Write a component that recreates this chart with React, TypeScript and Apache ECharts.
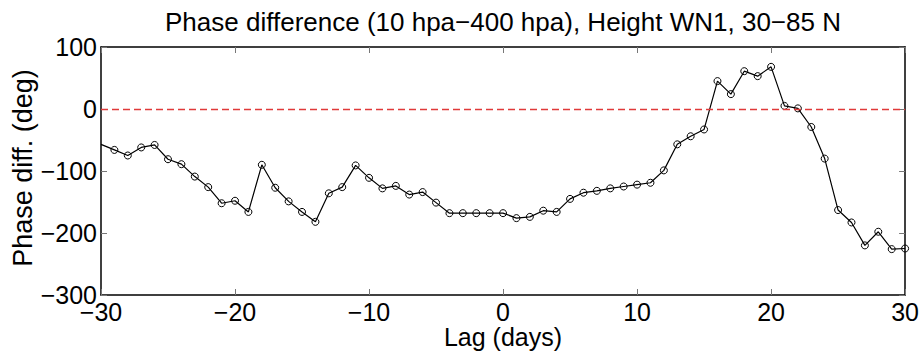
import React, { useEffect, useRef } from "react";
import * as echarts from "echarts";

const titleText = "Phase difference (10 hpa\u2212400 hpa), Height WN1, 30\u221285 N";
const xName = "Lag (days)";
const yName = "Phase diff. (deg)";

const lags = [
  -30, -29, -28, -27, -26, -25, -24, -23, -22, -21, -20, -19, -18, -17, -16, -15,
  -14, -13, -12, -11, -10, -9, -8, -7, -6, -5, -4, -3, -2, -1, 0, 1, 2, 3, 4, 5,
  6, 7, 8, 9, 10, 11, 12, 13, 14, 15, 16, 17, 18, 19, 20, 21, 22, 23, 24, 25, 26,
  27, 28, 29, 30,
];

const phaseDiff = [
  -57, -66, -75, -62, -58, -81, -89, -109, -126, -152, -148, -166, -90, -127, -149, -166,
  -182, -136, -126, -91, -111, -128, -124, -138, -134, -151, -168, -168, -168, -168, -168, -176, -174, -164, -166, -145,
  -135, -132, -128, -125, -122, -119, -99, -57, -44, -33, 45, 24, 61, 53, 68, 5, 1, -29, -80, -163, -183,
  -220, -198, -226, -225,
];

const xTicks = { min: -30, max: 30, interval: 10 };
const yTicks = { min: -300, max: 100, interval: 100 };
const refLine = 0;

const FONT = "'Liberation Sans', Arial, Helvetica, sans-serif";
const fmt = (v: number) => (v < 0 ? "\u2212" + Math.abs(v) : String(v));
const RED = "#e03a3a";

export default function App() {
  const ref = useRef<HTMLDivElement>(null);
  useEffect(() => {
    if (!ref.current) return;
    const chart = echarts.init(ref.current, undefined, { renderer: "svg" });
    const axisLine = { show: true, onZero: false, lineStyle: { color: "#000", width: 1.5 } };
    const axisTick = { show: true, inside: true, length: 6, lineStyle: { color: "#777", width: 1 } };
    const data = lags.map((d, i) =>
      i === 0 ? { value: [d, phaseDiff[i]], symbol: "none" } : { value: [d, phaseDiff[i]] }
    );
    chart.setOption({
      animation: false,
      backgroundColor: "#fff",
      grid: { left: 101, right: 16, top: 47, bottom: 56, containLabel: false },
      xAxis: [
        {
          type: "value", position: "bottom", ...xTicks,
          axisLine, axisTick,
          axisLabel: { fontSize: 25, color: "#000", fontFamily: FONT, margin: 4, formatter: fmt },
          splitLine: { show: false },
        },
        {
          type: "value", position: "top", ...xTicks,
          axisLine, axisTick, axisLabel: { show: false }, splitLine: { show: false },
        },
      ],
      yAxis: [
        {
          type: "value", position: "left", ...yTicks,
          axisLine, axisTick,
          axisLabel: { fontSize: 25, color: "#000", fontFamily: FONT, margin: 4, formatter: fmt },
          splitLine: { show: false },
        },
        {
          type: "value", position: "right", ...yTicks,
          axisLine, axisTick, axisLabel: { show: false }, splitLine: { show: false },
        },
      ],
      graphic: [
        {
          type: "text", x: 503, y: 22,
          style: { text: titleText, font: `26px ${FONT}`, fill: "#000", textAlign: "center", textVerticalAlign: "middle" },
        },
        {
          type: "text", x: 503, y: 337,
          style: { text: xName, font: `25px ${FONT}`, fill: "#000", textAlign: "center", textVerticalAlign: "middle" },
        },
        {
          type: "text", x: 23, y: 168, rotation: Math.PI / 2,
          style: { text: yName, font: `27px ${FONT}`, fill: "#000", textAlign: "center", textVerticalAlign: "middle" },
        },
      ],
      series: [
        {
          type: "line",
          data,
          symbol: "circle",
          symbolSize: 7,
          showSymbol: true,
          clip: true,
          lineStyle: { color: "#000", width: 1.2 },
          itemStyle: { color: "transparent", borderColor: "#000", borderWidth: 1 },
          markLine: {
            silent: true,
            symbol: "none",
            label: { show: false },
            itemStyle: { color: RED },
            lineStyle: { color: RED, type: [7, 4], width: 1.4, opacity: 1 },
            data: [{ yAxis: refLine }],
          },
          z: 3,
        },
      ],
    });
    return () => chart.dispose();
  }, []);
  return <div ref={ref} style={{ width: 922, height: 351, position: "absolute", left: 0, top: 0 }} />;
}
